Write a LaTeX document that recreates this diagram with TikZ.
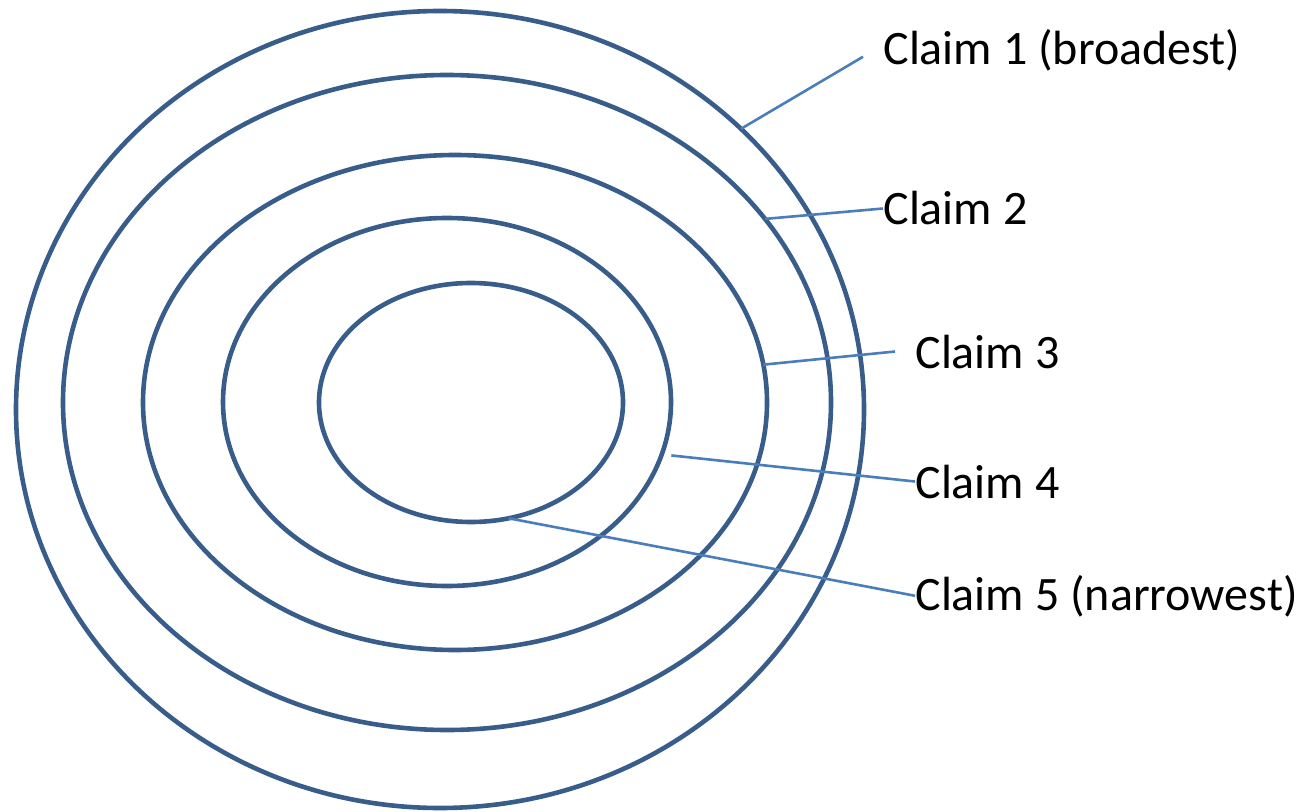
\documentclass[tikz,border=0pt]{standalone}
\usepackage{fontspec}
\setmainfont{Carlito}
\usetikzlibrary{shapes.geometric}
\definecolor{ringblue}{HTML}{385D8A}
\definecolor{leaderblue}{HTML}{4A7EBB}

\begin{document}
\begin{tikzpicture}[x=0.5pt,y=-0.5pt,
		ring/.style={draw=ringblue,line width=2.3pt,ellipse,inner sep=0pt,outer sep=0pt},
		leader/.style={draw=leaderblue,line width=1.3pt},
		claim/.style={anchor=base west,inner sep=0pt,font=\fontsize{24}{29}\selectfont}
		]
		\useasboundingbox (0,0) rectangle (1304,812);
		
		% Nested claim scopes, broadest outside
		\node[ring,minimum width=424pt,minimum height=398.5pt] (c1) at (440,409.5) {};
		\node[ring,minimum width=384pt,minimum height=327.5pt] (c2) at (447,402.5) {};
		\node[ring,minimum width=312pt,minimum height=247.5pt] (c3) at (455,402.5) {};
		\node[ring,minimum width=224pt,minimum height=184pt] (c4) at (447,402) {};
		\node[ring,minimum width=152pt,minimum height=119.5pt] (c5) at (471,402.5) {};
		
		% Claim labels
		\node[claim] (l1) at (883,65) {Claim 1 (broadest)};
		\node[claim] (l2) at (883,225) {Claim 2};
		\node[claim] (l3) at (915,368) {Claim 3};
		\node[claim] (l4) at (915,498) {Claim 4};
		\node[claim] (l5) at (915,610) {Claim 5 (narrowest)};
		
		% Leader lines
		\draw[leader] ([xshift=-10pt,yshift=-3pt]l1.west) -- (c1.43);
		\draw[leader] (l2.west) -- (c2.30);
		\draw[leader] ([xshift=-10pt]l3.west) -- (c3.7);
		\draw[leader] (l4.west) -- ([xshift=5pt]c4.-14);
		\draw[leader] (l5.west) -- (c5.-72);
		
\end{tikzpicture}
\end{document}
